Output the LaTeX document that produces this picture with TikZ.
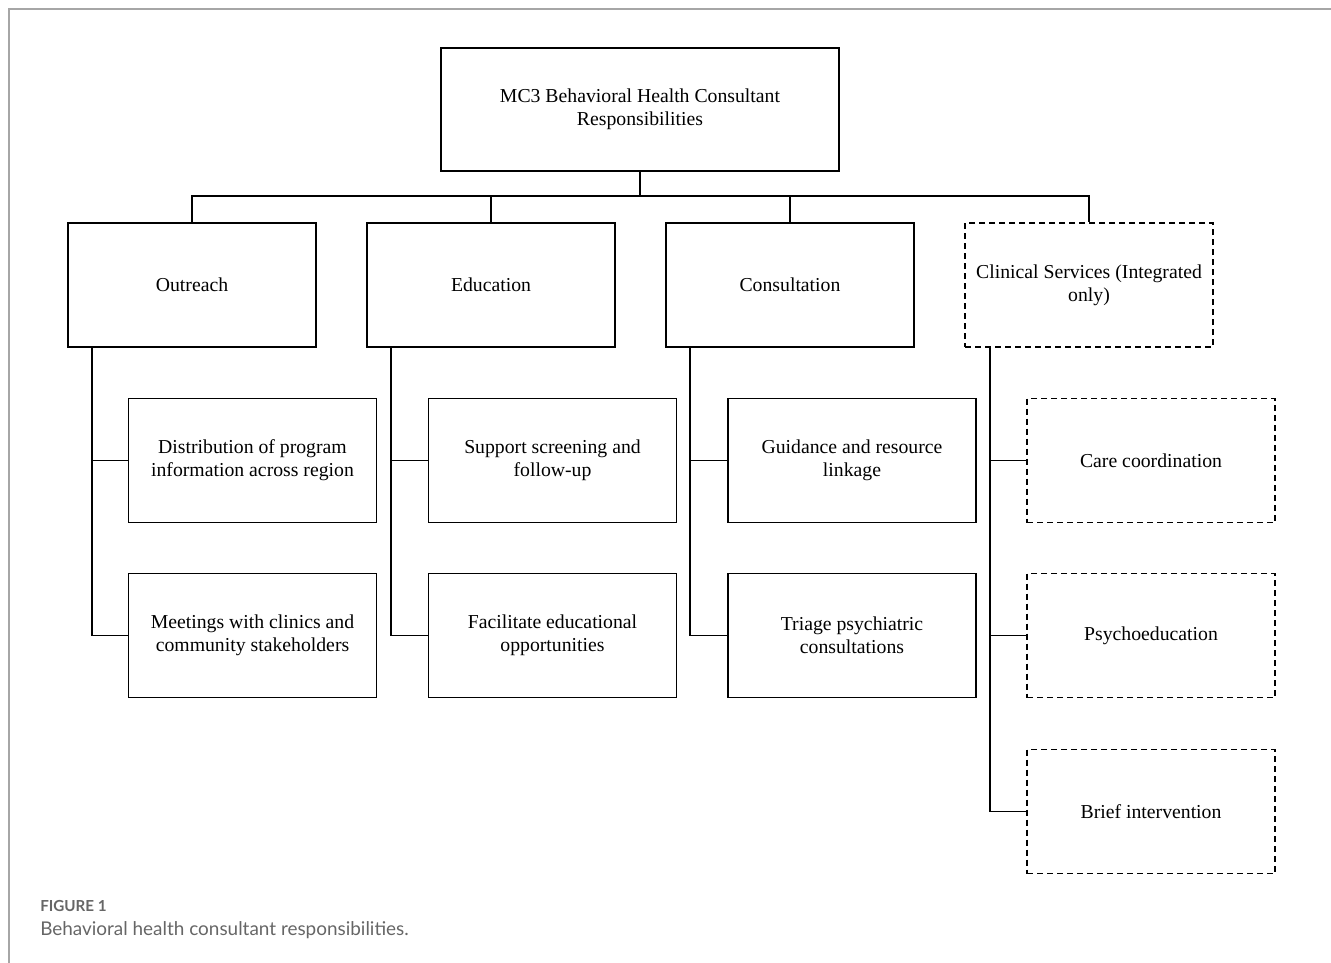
\documentclass[tikz,border=0pt]{standalone}
\usepackage{fontspec}
\setmainfont{Liberation Serif}
\newfontfamily\capfont{Lato}
\usepackage{tikz}

\begin{document}
\begin{tikzpicture}[x=0.75pt,y=-0.75pt,
		rbox/.style={draw,line width=1.2pt,minimum width=186pt,minimum height=93pt,align=center,
			font=\fontsize{14.8}{17.25}\selectfont,inner sep=2pt},
		optbox/.style={rbox,dash pattern=on 4.5pt off 3pt},
		link/.style={line width=1.2pt}]
	\useasboundingbox (0,0) rectangle (1331,963);
	% frame
	\draw[color=gray!70,line width=1.5pt] (9,963) -- (9,9) -- (1331,9);
	% head
	\node[rbox,minimum width=298.5pt,minimum height=92pt,text depth=3pt] (top) at (640,109.5)
		{MC3 Behavioral Health Consultant\\Responsibilities};
	% first level
	\node[rbox] (outreach) at (192,285) {Outreach};
	\node[rbox] (education) at (491,285) {Education};
	\node[rbox] (consult) at (790,285) {Consultation};
	\node[optbox] (clinical) at (1089,285) {Clinical Services (Integrated\\only)};
	% second level
	\node[rbox] (distrib) at (252.5,460.5) {Distribution of program\\information across region};
	\node[rbox] (meeting) at (252.5,635.5) {Meetings with clinics and\\community stakeholders};
	\node[rbox] (screen) at (552.5,460.5) {Support screening and\\follow-up};
	\node[rbox] (facil) at (552.5,635.5) {Facilitate educational\\opportunities};
	\node[rbox] (guide) at (852,460.5) {Guidance and resource\\linkage};
	\node[rbox] (triage) at (852,635.5) {Triage psychiatric\\consultations};
	\node[optbox] (carecoord) at (1151,460.5) {Care coordination};
	\node[optbox] (psycho) at (1151,635.5) {Psychoeducation};
	\node[optbox] (brief) at (1151,811.5) {Brief intervention};
	% connectors
	\coordinate (bus) at (640,196);
	\draw[line width=2pt] (top.south) -- (bus);
	\draw[link] (outreach.north) |- (bus) -| (clinical.north);
	\draw[link] (education.north) -- (education.north |- bus);
	\draw[link] (consult.north) -- (consult.north |- bus);
	\draw[link] ([xshift=18.75pt]outreach.south west) |- (distrib.west);
	\draw[link] ([xshift=18.75pt]outreach.south west) |- (meeting.west);
	\draw[link] ([xshift=18.75pt]education.south west) |- (screen.west);
	\draw[link] ([xshift=18.75pt]education.south west) |- (facil.west);
	\draw[link] ([xshift=18.75pt]consult.south west) |- (guide.west);
	\draw[link] ([xshift=18.75pt]consult.south west) |- (triage.west);
	\draw[link] ([xshift=19.5pt]clinical.south west) |- (carecoord.west);
	\draw[link] ([xshift=19.5pt]clinical.south west) |- (psycho.west);
	\draw[link] ([xshift=19.5pt]clinical.south west) |- (brief.west);
	% caption
	\node[anchor=base west,inner sep=0pt,color=black!60,font=\capfont\fontsize{11.4}{13}\selectfont\bfseries] (figlabel) at (40,911) {FIGURE 1};
	\node[anchor=base west,inner sep=0pt,color=black!60,font=\capfont\fontsize{14.2}{16}\selectfont] (figcap) at (40,935) {Behavioral health consultant responsibilities.};
\end{tikzpicture}
\end{document}
